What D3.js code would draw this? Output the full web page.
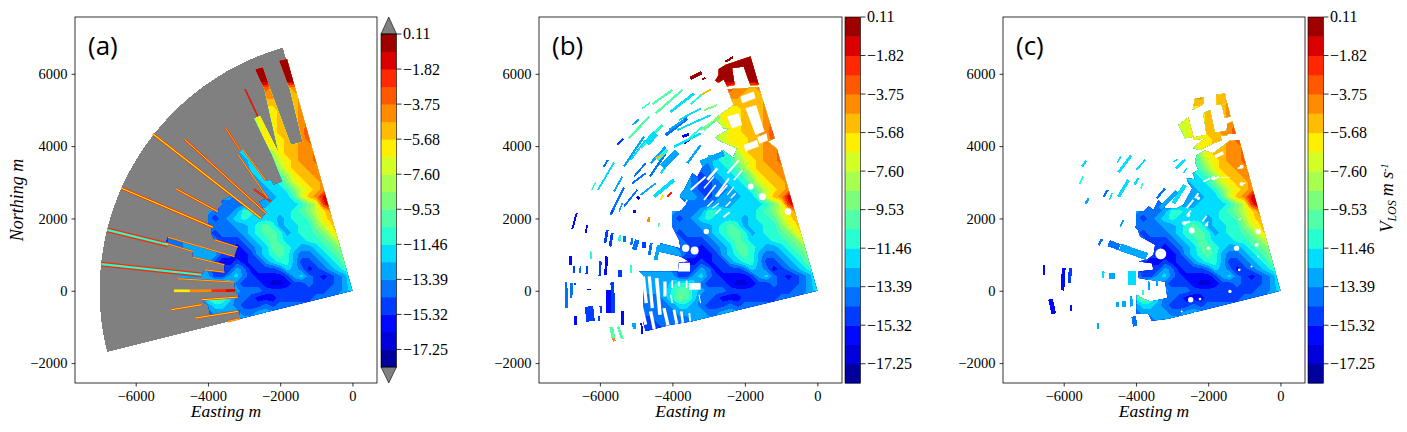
<!DOCTYPE html>
<html lang="en">
<head>
<meta charset="utf-8">
<title>Line of sight velocity scans</title>
<script src="https://d3js.org/d3.v7.min.js"></script>
<style>
  body { margin: 0; background: #fff; }
  text { font-family: "Liberation Serif", serif; fill: #000; }
  .domain, .tick line { stroke: #000; stroke-width: 0.8; }
</style>
</head>
<body>
<script>
// colour bands, bottom to top, and the ticks of the colour bars
var bandColors = ["#00009e","#0000db","#0007ff","#003cff","#0072ff","#00a7ff","#00ddff","#25ffd2","#50ffa7","#7bff7b","#a7ff50","#d2ff25","#feee00","#ffbc00","#ff8b00","#ff5900","#ff2800","#db0000","#9e0000"];
var barTicks = ["0.11","\u22121.82","\u22123.75","\u22125.68","\u22127.60","\u22129.53","\u221211.46","\u221213.39","\u221215.32","\u221217.25"];
var xTicks = [-6000, -4000, -2000, 0];
var yTicks = [-2000, 0, 2000, 4000, 6000];

// velocity band (base 19 digit) on a 200 m lattice, first column at -5200 m east, first row at 6600 m north
var vlosRows = [
"..... ..... ..iii iiiii ..... ...",
"..... ..... ..iii iiiii ..... ...",
"..... ..... .iiii iiiii ..... ...",
"..... ..... .iiii iiiii ..... ...",
"..... ..... .iiii iiiii i.... ...",
"..... ..... ...ff eedef f.... ...",
"..... ..... ...ee eddde f.... ...",
"..... ..... ..ddd dddde f.... ...",
"..... ..... .bbcc cddde ff... ...",
"..... ..... 9bbcc cddde ff... ...",
"..... ..... 9abbc cddde fg... ...",
"..... ..... 89abc cddee ghh.. ...",
"..... ..... 89abc ccdde fhh.. ...",
"..... ..... 789ab ccdde efhh. ...",
"..... ..... 56678 acdde efgg. ...",
"..... ...54 45677 9bcde efffg ...",
"..... ..554 44667 8acdd eefgg ...",
"..... ..554 34566 78acd deffg g..",
"..... ..554 33456 679bc ddefg g..",
"..... ..554 33445 6679b cdegh g..",
"..... ..555 43455 5668b dehih h..",
"..... ...44 44555 66667 9bgih h..",
"..... .5444 57766 66678 9bceh h..",
"..... .4345 67666 65677 8acdf gg.",
"..... .4444 55678 75667 79bce ff.",
"34455 54344 45678 87567 789bd ef.",
"34455 55433 34567 87666 7789b de.",
"34455 55443 23456 88765 56789 bde",
"34455 55533 22356 78754 45678 acd",
"44455 55322 32335 67753 34567 9bc",
"55555 54333 54233 34654 23456 7ab",
"..555 55335 64322 22356 43234 589",
"..555 56776 43332 11233 43334 578",
"..555 57886 54443 33333 33344 567",
"..444 57986 44322 23333 34445 5..",
"..444 45665 43334 34444 444.. ...",
"..444 44555 54455 5555. ..... ...",
"..334 44445 5555. ..... ..... ...",
"..333 44444 5.... ..... ..... ..."
];

// sector of panel (a), degrees from north and metres
var sectorFrom = -104, sectorTo = -16, sectorRange = 7000;

// outlines of the retrieved area [east, north]
var outlineA = [[[0,0],[-1812,6403],[-2024,6357],[-1730,5575],[-1380,4122],[-1702,4030],[-2300,5640],[-2484,6173],[-2686,6118],[-2438,5575],[-2042,3818],[-2558,4830],[-2714,4766],[-2226,3754],[-1932,3018],[-2190,2926],[-2254,3064],[-2392,3045],[-3036,3910],[-3174,3781],[-2346,2558],[-2576,2466],[-2392,2144],[-2530,1978],[-3312,2650],[-3496,2558],[-3634,2466],[-3726,2190],[-4250,2420],[-4278,2263],[-4048,2144],[-4048,1960],[-3910,1776],[-3910,1592],[-3818,1408],[-3174,1205],[-3266,948],[-5106,1481],[-5180,1316],[-4416,1086],[-4416,929],[-3542,718],[-3542,515],[-4094,580],[-4168,442],[-4830,488],[-4830,331],[-3266,239],[-3248,28],[-3128,-156],[-4168,-267],[-4002,-386],[-3938,-662],[-3128,-552],[-3100,-773]]];
var outlineB = [
  [[0,0],[-1122,3938],[-1932,3846],[-2208,3800],[-2300,3662],[-2622,3892],[-2760,3708],[-2990,3754],[-3312,3156],[-3450,3248],[-3680,2788],[-3864,2558],[-4232,2328],[-4278,2144],[-4066,2052],[-4002,1776],[-3818,1408],[-3772,1168],[-4324,1316],[-4370,1086],[-3772,948],[-3542,810],[-3818,782],[-3846,534],[-4922,534],[-4968,-248],[-4738,-1122],[-4048,-938],[-3450,-846]],
  [[-1846,6475],[-1615,5692],[-1846,5673],[-2031,6198],[-2354,6152],[-2280,5692],[-2492,5646],[-2584,5848],[-2750,5738],[-2815,5812],[-2723,5968],[-2723,6125],[-2538,6244]],
  [[-1615,5627],[-1181,4218],[-1366,4126],[-1126,3933],[-2308,3730],[-2215,3942],[-2723,4154],[-2815,4246],[-2400,4494],[-2584,4494],[-2815,4771],[-2308,5139],[-2474,5572],[-2031,5600]]
];
var outlineC = [
  [[0,0],[-1141,4168],[-1398,4149],[-1858,3800],[-2088,3873],[-2318,3754],[-2364,3570],[-2272,3340],[-2429,3248],[-2364,3082],[-2594,3110],[-2548,2972],[-2438,2834],[-2686,2374],[-2870,2282],[-3192,2282],[-3376,2512],[-3514,2236],[-3698,2374],[-3855,2512],[-3974,2374],[-4250,2374],[-4250,2217],[-4094,2098],[-4112,1849],[-3947,1684],[-3882,1500],[-3468,1270],[-3514,994],[-3698,856],[-3928,810],[-3560,764],[-3514,580],[-3928,534],[-3928,350],[-3652,304],[-3192,258],[-3128,-202],[-3606,-294],[-3836,-202],[-3974,-110],[-3993,-644],[-3652,-644],[-3560,-828],[-3100,-773]],
  [[-2364,5318],[-2134,5345],[-2116,5180],[-2429,4996]],
  [[-1785,5410],[-1536,5456],[-1490,5180],[-1766,5134]],
  [[-1628,5134],[-1472,5180],[-1380,4812],[-1536,4793]],
  [[-2134,4904],[-1950,4996],[-1812,4352],[-2042,4306]],
  [[-1472,4628],[-1334,4674],[-1233,4333],[-1490,4333]],
  [[-2548,4793],[-2410,4260],[-2640,4214],[-2824,4582]],
  [[-2410,4241],[-1490,4425],[-1472,4306],[-2410,4168]],
  [[-2410,3938],[-2226,4122],[-1904,4306],[-1656,4333],[-1638,4149],[-1858,4076],[-2226,3892]]
];

// blocks with no retrieval inside panel (b) [east, north]
var blocksB = [
  [[-1984,5047],[-1689,5139],[-1458,4402],[-1707,4310]],
  [[-2123,5369],[-1754,5508],[-1708,5323],[-2077,5185]],
  [[-2492,4817],[-2169,4909],[-2077,4587],[-2354,4494]],
  [[-2031,4034],[-1661,4172],[-1615,3988],[-1984,3850]],
  [[-1661,4246],[-1403,4356],[-1366,4154],[-1597,4062]]
];
// narrow gaps [east1, north1, east2, north2, thickness m]
var gapsB = [[-4802,396,-4720,-340,90],[-4637,396,-4554,-478,90],[-4434,350,-4342,-662,100],[-4204,258,-4204,-156,90],[-4002,285,-4002,74,45],[-3818,258,-3818,120,45],[-3606,285,-3606,74,45],[-4048,-110,-4002,-340,37],[-4876,-340,-4738,-938,90],[-4600,-570,-4490,-1122,90],[-4232,-478,-4103,-1030,90],[-3956,-524,-3864,-984,80],[-3754,-570,-3698,-984,70],[-3533,-616,-3496,-938,50],[-3266,-110,-3220,-340,28],[-2806,2125,-2668,2263,46],[-2594,2033,-2420,2171,46],[-3036,2328,-2870,2493,37],[-2760,2604,-2484,2926,46],[-2392,2558,-2254,2696,37],[-3128,2834,-2852,3156,37],[-2484,3248,-2162,3616,55],[-2070,3340,-2300,3064,46],[-3772,2236,-3588,2512,37],[-3542,120,-3220,120,184],[-3846,653,-3514,653,239],
[-3496,2788,-3082,3156,55],[-3128,2512,-2806,2926,46],[-2806,2604,-2438,3110,55],[-3036,3064,-2760,3386,74],[-2484,2650,-2300,2880,37],[-3864,2788,-3588,3156,74],[-3266,3386,-2944,3662,55],[-2530,2328,-2392,2466,37],[-2898,2282,-2714,2420,28]];
var gapsC = [[-1812,3708,-1582,3818,92],[-2134,3018,-1950,3110,46],[-1858,3082,-1702,3156,46],[-1647,3137,-1398,3137,18],[-1187,3386,-1030,3422,46],[-1095,2944,-966,2981,37],[-2364,2558,-2272,2696,55],[-2594,2282,-2410,2512,55],[-2567,2116,-2475,2217,46],[-2686,1868,-2502,1914,64],[-2162,1914,-2042,2070,46],[-2088,1794,-1996,1914,37],[-1150,1960,-1095,2006,37]];
// round holes [east, north, radius m]
var holesB = [[-3634,1178,101],[-3386,1113,110],[-3064,1638,74],[-1840,2880,83],[-1518,2604,101],[-810,2190,92]];
var holesC = [[-3312,1021,150],[-2484,-248,74],[-2226,-230,37],[-1398,-18,46],[-2456,1665,83],[-2668,1868,55],[-2548,2098,55],[-2042,1822,46],[-616,1638,74],[-1076,2953,55],[-1076,3432,55],[-1858,3110,55],[-1214,1178,74],[-662,1270,55],[-1996,1178,46],[-1141,580,37],[-2732,-570,28],[-616,948,28],[-800,672,28],[-2272,2558,46]];

// isolated gate runs [east1, north1, east2, north2, band, thickness m]
var streaksB = [
[-2538,6336,-2326,6456,18,46],[-3507,5876,-3184,6033,18,74],[-3184,5848,-3092,5885,18,37],
[-4830,5042,-4618,5198,7,28],[-4554,5161,-4002,5548,8,46],[-4462,4904,-3726,5548,8,46],[-4048,4950,-3404,5456,6,55],[-3496,5161,-3174,5437,7,37],[-3174,5437,-2944,5566,13,37],[-5106,4582,-4922,4738,5,37],[-5198,4214,-4646,4812,8,46],[-4876,3938,-4278,4582,7,55],[-4186,4306,-3588,4766,4,64],[-3864,4444,-2944,4858,6,37],[-5520,4030,-5354,4195,3,46],[-5906,3413,-5778,3616,4,37],[-6054,2788,-5612,3542,6,37],[-6228,2788,-6118,2999,7,28],[-5704,2098,-5336,2861,4,46],[-5474,2190,-5382,2420,5,28],[-5336,3432,-4784,4260,5,46],[-5106,2972,-4738,3248,4,37],[-4710,4076,-4462,4352,6,129],[-4618,3156,-4186,3800,4,46],[-4324,3248,-4048,3616,6,46],[-4508,2604,-3956,3064,6,74],[-4876,2650,-4462,2972,5,37],[-4140,2604,-4020,2714,16,37],[-4324,2512,-4250,2650,12,37],[-3726,4260,-3542,4324,2,55],[-3680,4076,-3524,4186,2,46],[-3220,4444,-2668,4812,9,46],[-3128,4996,-2760,5134,9,37],[-3128,4444,-2852,4674,8,37],[-3956,3984,-3220,4352,6,46],[-3588,3524,-3220,4030,5,46],[-4278,3432,-3864,3846,5,129],[-3220,3524,-2576,3800,5,110],[-5336,2328,-4968,2788,4,37],[-4968,2604,-4913,2530,1,55],
[-4600,3524,-4186,3984,5,46],[-5152,3616,-4738,4168,6,37],[-4094,4444,-3680,4720,5,46],[-5060,3156,-4738,3524,4,37],[-5612,2742,-5382,3156,5,37],[-3588,4168,-3174,4536,7,37],[-3818,4720,-3220,5042,6,37],[-4416,3616,-4140,3892,7,74],[-4462,3662,-4278,3754,13,37],
[-6642,2144,-6762,1702,2,37],[-6348,1822,-6394,1592,2,37],[-5796,1684,-5860,1316,3,55],[-5658,1592,-5722,1224,3,55],[-5446,1546,-5465,1362,7,46],[-5318,1518,-5318,1343,4,46],[-5106,1454,-5134,1270,4,46],[-4968,1408,-5060,1132,4,92],[-4784,1362,-4784,1178,3,74],[-4582,1316,-4637,994,4,55],[-4370,1270,-4462,856,5,74],[-6808,948,-6808,718,2,46],[-6716,690,-6716,488,3,46],[-6532,690,-6550,488,4,37],[-6348,672,-6366,469,3,46],[-6238,1086,-6256,874,7,37],[-5980,810,-6008,414,3,46],[-5814,948,-5842,442,2,55],[-5446,580,-5446,368,3,92],[-5152,718,-5134,488,7,37],[-6928,230,-6918,-478,4,46],[-6780,212,-6790,-202,4,46],[-6670,212,-6688,156,3,37],[-6302,46,-6302,18,1,74],[-6302,-432,-6256,-846,3,166],[-5980,-432,-5962,-616,3,46],[-6026,-708,-6026,-846,3,37],[-5658,230,-5630,-616,3,74],[-5768,28,-5768,-616,2,92],[-5382,-570,-5382,-938,2,55],[-6670,-708,-6670,-938,2,55],[-5060,-892,-5042,-1058,5,74],[-4858,-892,-4830,-1187,2,37],[-5686,-1003,-5630,-1306,8,74],[-5630,-1306,-5594,-1398,14,55],[-5502,-984,-5382,-1334,8,55],[-4646,2052,-4664,1904,14,46],[-4370,1868,-4388,1776,8,37],[-5042,2236,-5042,2144,2,46],[-5686,2144,-5649,2236,3,37]
];
var streaksC = [
[-5373,3597,-5492,3432,6,46],[-5465,3156,-5566,2953,7,37],[-5308,2558,-5400,2401,5,46],[-4784,2788,-4894,2604,4,46],[-4664,2696,-4729,2512,6,28],[-4204,3064,-4480,2604,6,64],[-3928,3110,-4048,2926,6,46],[-3809,2990,-3864,2834,7,28],[-4140,3735,-4480,3275,6,55],[-4416,3708,-4526,3542,6,28],[-3744,3616,-3993,3340,6,37],[-2824,3634,-2981,3570,6,28],[-2640,3616,-2889,3386,6,55],[-2594,3386,-2686,3248,6,28],[-4342,1960,-4434,1776,5,37],[-4940,1426,-5032,1260,4,46],[-4756,1316,-4453,1205,4,129],[-4434,1205,-3698,948,5,147],[-6550,718,-6550,442,2,46],[-5998,626,-6035,9,2,74],[-5814,626,-5842,212,3,64],[-4894,534,-4922,350,6,46],[-4664,488,-4664,322,5,129],[-4112,534,-4112,166,6,166],[-6366,-230,-6274,-635,2,92],[-5796,-386,-5796,-570,2,55],[-4508,-313,-4508,-460,5,46],[-4324,-294,-4324,-451,5,74],[-4140,-156,-4112,-432,5,55],[-4066,-708,-4020,-984,4,92],[-5051,-892,-5051,-1058,5,37],[-3790,-18,-3790,-110,7,28],
[-2640,2926,-2962,2420,6,83],[-2870,2742,-3330,2282,5,83],[-3192,2834,-3422,2558,4,46],[-3652,258,-3634,28,5,37],[-3422,258,-3422,120,5,37],[-3809,28,-3809,-110,7,37]
];
// single beams of panel (a) [east1, north1, east2, north2, thickness m, edge band, centre band]
var beamsA = [
[-5520,4333,-2530,2006,70,16,12],[-4646,4186,-2392,2144,60,16,12],[-3514,4508,-3110,3892,50,16,13],[-2972,5575,-2622,4830,40,17,16],[-6394,2834,-3864,1757,70,16,12],[-4876,2815,-3726,2190,60,16,12],[-6790,1684,-5106,1270,130,16,7],[-6946,736,-4186,442,130,16,7],[-4168,-248,-3174,-175,60,16,12],[-5014,-524,-4186,-386,60,16,12],[-4342,-754,-3174,-570,60,16,12],[-3450,-846,-3110,-773,50,16,12],[-2732,2806,-2254,2466,50,17,15],
[-5106,1481,-3266,948,45,16,12],[-5180,1316,-4416,1086,45,16,12],[-4416,929,-3542,718,45,16,12],[-3818,1408,-3174,1205,45,16,12],[-4094,580,-3542,515,45,16,12],[-4830,331,-3266,239,45,16,12],[-3036,3910,-2392,3045,45,16,12],[-3174,3781,-2346,2558,45,16,12],
[-4940,0,-4500,0,75,12,12],[-4500,0,-3900,4,75,14,14],[-3900,4,-3500,7,75,16,16],[-3500,7,-3248,9,75,17,17]
];

var panels = [
  { tag: "(a)", left: 75, right: 377, bar: 381, barTop: 34, barBottom: 367, outline: outlineA, streaks: [], blocks: [], gaps: [], holes: [], sector: true, beams: beamsA, yLabel: "Northing m" },
  { tag: "(b)", left: 539, right: 842, bar: 845, barTop: 17, barBottom: 383, outline: outlineB, streaks: streaksB, blocks: blocksB, gaps: gapsB, holes: holesB, beams: [] },
  { tag: "(c)", left: 1003, right: 1305, bar: 1308, barTop: 17, barBottom: 383, outline: outlineC, streaks: streaksC, blocks: [], gaps: gapsC, holes: holesC, beams: [] }
];
var plotTop = 17, plotBottom = 383, barWidth = 15.5;

var svg = d3.select("body").append("svg").attr("width", 1407).attr("height", 432);

// lattice to a flat array for d3.contours
var rows = vlosRows.map(function (r) { return r.replace(/ /g, ""); });
var nx = rows[0].length, ny = rows.length;
var values = [];
rows.forEach(function (r) {
  for (var i = 0; i < nx; i++) {
    values.push(r[i] === "." ? NaN : parseInt(r[i], 19) + 0.5);
  }
});
var thresholds = d3.range(bandColors.length);
var bands = d3.contours().size([nx, ny]).thresholds(thresholds)(values);

panels.forEach(function (p, n) {
  var x = d3.scaleLinear().domain([-7680, 680]).range([p.left, p.right]);
  var y = d3.scaleLinear().domain([-2550, 7570]).range([plotBottom, plotTop]);
  var k = Math.abs(x(1) - x(0));
  var g = svg.append("g");

  if (p.sector) {
    g.append("path")
      .attr("transform", "translate(" + x(0) + "," + y(0) + ")")
      .attr("d", d3.arc()({ innerRadius: 0, outerRadius: sectorRange * k,
        startAngle: sectorFrom * Math.PI / 180, endAngle: sectorTo * Math.PI / 180 }))
      .attr("fill", "#808080")
      .attr("shape-rendering", "crispEdges");
  }

  var poly = d3.line().x(function (d) { return x(d[0]); }).y(function (d) { return y(d[1]); });
  svg.append("clipPath").attr("id", "clip" + n)
    .selectAll("path").data(p.outline).enter().append("path")
    .attr("d", function (d) { return poly(d) + "Z"; });

  var grid = d3.geoPath(d3.geoTransform({
    point: function (cx, cy) {
      this.stream.point(x(-5200 + 200 * (cx - 0.5)), y(6600 - 200 * (cy - 0.5)));
    }
  }));
  var field = g.append("g").attr("clip-path", "url(#clip" + n + ")");
  field.selectAll("path.band").data(bands).enter().append("path")
    .attr("class", "band")
    .attr("d", grid)
    .attr("fill", function (d, i) { return bandColors[i]; })
    .attr("shape-rendering", "crispEdges");

  // gaps in white on top of the field
  field.selectAll("path.block").data(p.blocks).enter().append("path")
    .attr("class", "block")
    .attr("d", function (d) { return poly(d) + "Z"; })
    .attr("fill", "#fff");
  field.selectAll("line").data(p.gaps).enter().append("line")
    .attr("x1", function (d) { return x(d[0]); }).attr("y1", function (d) { return y(d[1]); })
    .attr("x2", function (d) { return x(d[2]); }).attr("y2", function (d) { return y(d[3]); })
    .attr("stroke", "#fff")
    .attr("stroke-width", function (d) { return d[4] * k; });
  field.selectAll("circle").data(p.holes).enter().append("circle")
    .attr("cx", function (d) { return x(d[0]); }).attr("cy", function (d) { return y(d[1]); })
    .attr("r", function (d) { return d[2] * k; })
    .attr("fill", "#fff");

  g.selectAll("line.streak").data(p.streaks).enter().append("line")
    .attr("class", "streak")
    .attr("x1", function (d) { return x(d[0]); }).attr("y1", function (d) { return y(d[1]); })
    .attr("x2", function (d) { return x(d[2]); }).attr("y2", function (d) { return y(d[3]); })
    .attr("stroke", function (d) { return bandColors[d[4]]; })
    .attr("stroke-width", function (d) { return d[5] * 1.4 * k; })
    .attr("shape-rendering", "crispEdges");

  // each beam of (a): red edge with a lighter centre
  [[5, 1], [6, 0.45]].forEach(function (part) {
    g.selectAll("line.beam" + part[0]).data(p.beams).enter().append("line")
      .attr("class", "beam" + part[0])
      .attr("x1", function (d) { return x(d[0]); }).attr("y1", function (d) { return y(d[1]); })
      .attr("x2", function (d) { return x(d[2]); }).attr("y2", function (d) { return y(d[3]); })
      .attr("stroke", function (d) { return bandColors[d[part[0]]]; })
      .attr("stroke-width", function (d) { return d[4] * k * part[1]; });
  });

  // frame and axes
  g.append("rect").attr("x", p.left).attr("y", plotTop)
    .attr("width", p.right - p.left).attr("height", plotBottom - plotTop)
    .attr("fill", "none").attr("stroke", "#000").attr("stroke-width", 0.8);
  g.append("g").attr("transform", "translate(0," + plotBottom + ")")
    .call(d3.axisBottom(x).tickValues(xTicks).tickFormat(d3.format("d")).tickSize(3.5).tickPadding(4))
    .selectAll("text").style("font-size", "14.5px");
  g.append("g").attr("transform", "translate(" + p.left + ",0)")
    .call(d3.axisLeft(y).tickValues(yTicks).tickFormat(d3.format("d")).tickSize(3.5).tickPadding(4))
    .selectAll("text").style("font-size", "14.5px");
  g.selectAll(".domain").remove();

  g.append("text").attr("x", (p.left + p.right) / 2).attr("y", 417)
    .attr("text-anchor", "middle").style("font-size", "17.5px").style("font-style", "italic")
    .text("Easting m");
  if (p.yLabel) {
    g.append("text").attr("transform", "translate(23,200) rotate(-90)")
      .attr("text-anchor", "middle").style("font-size", "18px").style("font-style", "italic")
      .text(p.yLabel);
  }
  g.append("text").attr("x", p.left + 13).attr("y", 55)
    .style("font-family", "'Open Sans', sans-serif").style("font-size", "26px")
    .text(p.tag);

  // colour bar
  var band = d3.scaleLinear().domain([0, bandColors.length]).range([p.barBottom, p.barTop]);
  var bar = svg.append("g");
  bar.selectAll("rect.c").data(bandColors).enter().append("rect")
    .attr("class", "c")
    .attr("x", p.bar).attr("width", barWidth)
    .attr("y", function (d, i) { return band(i + 1); })
    .attr("height", function (d, i) { return band(i) - band(i + 1) + 0.5; })
    .attr("fill", function (d) { return d; });
  if (p.sector) {
    var tri = [[p.barTop, plotTop], [p.barBottom, plotBottom]];
    bar.selectAll("path.end").data(tri).enter().append("path").attr("class", "end")
      .attr("d", function (d) {
        return "M" + p.bar + "," + d[0] + "L" + (p.bar + barWidth / 2) + "," + d[1] + "L" + (p.bar + barWidth) + "," + d[0] + "Z";
      })
      .attr("fill", "#808080").attr("stroke", "#000").attr("stroke-width", 0.6);
  }
  bar.append("rect").attr("x", p.bar).attr("y", p.barTop).attr("width", barWidth)
    .attr("height", p.barBottom - p.barTop)
    .attr("fill", "none").attr("stroke", "#000").attr("stroke-width", 0.6);
  var tick = bar.selectAll("g.t").data(barTicks).enter().append("g").attr("class", "t")
    .attr("transform", function (d, i) { return "translate(" + (p.bar + barWidth) + "," + band(19 - 2 * i) + ")"; });
  tick.append("line").attr("x2", 5).attr("stroke", "#000").attr("stroke-width", 0.8);
  tick.append("text").attr("x", 6.5).attr("dy", "0.34em").style("font-size", "16px")
    .text(function (d) { return d; });
});

// label of the last colour bar
var vlabel = svg.append("text").attr("transform", "translate(1393,198) rotate(-90)")
  .attr("text-anchor", "middle").style("font-size", "18px").style("font-style", "italic");
vlabel.append("tspan").text("V");
vlabel.append("tspan").attr("dy", 3).style("font-size", "12px").text("LOS");
vlabel.append("tspan").attr("dy", -3).attr("dx", 4).text("m s");
vlabel.append("tspan").attr("dy", -5).style("font-size", "10px").text("-1");
</script>
</body>
</html>
